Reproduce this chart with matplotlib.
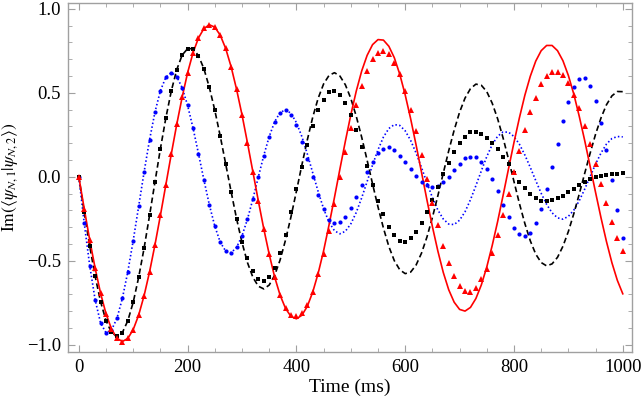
import matplotlib
matplotlib.use("Agg")
import matplotlib.pyplot as plt
from matplotlib.ticker import MultipleLocator
import numpy as np

plt.rcParams["font.family"] = "Liberation Serif"
plt.rcParams["mathtext.fontset"] = "stix"

# sample times (ms), one point every 10 ms
time_ms = np.arange(0, 1001, 10)

# theory curves
red_line = [
    0.0, -0.191, -0.375, -0.544, -0.693, -0.815, -0.905, -0.961, -0.980, -0.962,
    -0.909, -0.823, -0.707, -0.566, -0.404, -0.229, -0.047, 0.136, 0.312, 0.475,
    0.620, 0.739, 0.827, 0.883, 0.905, 0.891, 0.843, 0.764, 0.655, 0.521,
    0.369, 0.203, 0.030, -0.143, -0.309, -0.461, -0.596, -0.704, -0.783, -0.831,
    -0.845, -0.824, -0.771, -0.686, -0.574, -0.440, -0.286, -0.122, 0.047, 0.212,
    0.369, 0.510, 0.630, 0.723, 0.787, 0.817, 0.814, 0.777, 0.709, 0.611,
    0.488, 0.346, 0.190, 0.027, -0.138, -0.296, -0.441, -0.569, -0.672, -0.746,
    -0.789, -0.799, -0.777, -0.724, -0.643, -0.536, -0.408, -0.265, -0.110, 0.049,
    0.205, 0.352, 0.486, 0.599, 0.689, 0.751, 0.782, 0.782, 0.751, 0.691,
    0.603, 0.492, 0.360, 0.216, 0.062, -0.093, -0.244, -0.385, -0.511, -0.616,
    -0.696]
black_line = [
    0.0, -0.211, -0.412, -0.592, -0.743, -0.856, -0.926, -0.950, -0.927, -0.857,
    -0.746, -0.598, -0.424, -0.230, -0.030, 0.168, 0.351, 0.511, 0.638, 0.725,
    0.763, 0.763, 0.721, 0.643, 0.532, 0.396, 0.242, 0.077, -0.089, -0.249,
    -0.391, -0.510, -0.598, -0.651, -0.667, -0.644, -0.586, -0.495, -0.376, -0.238,
    -0.086, 0.070, 0.219, 0.355, 0.468, 0.553, 0.604, 0.620, 0.600, 0.548,
    0.467, 0.361, 0.236, 0.099, -0.042, -0.179, -0.305, -0.415, -0.499, -0.553,
    -0.576, -0.567, -0.525, -0.454, -0.358, -0.242, -0.113, 0.022, 0.155, 0.278,
    0.385, 0.469, 0.525, 0.552, 0.545, 0.507, 0.438, 0.345, 0.231, 0.104,
    -0.028, -0.159, -0.278, -0.381, -0.460, -0.510, -0.530, -0.518, -0.479, -0.413,
    -0.325, -0.219, -0.102, 0.021, 0.141, 0.254, 0.351, 0.429, 0.482, 0.508,
    0.507]
blue_line = [
    0.0, -0.277, -0.528, -0.732, -0.870, -0.928, -0.912, -0.843, -0.724, -0.566,
    -0.379, -0.176, 0.029, 0.220, 0.386, 0.513, 0.593, 0.620, 0.597, 0.530,
    0.425, 0.290, 0.138, -0.019, -0.167, -0.294, -0.389, -0.442, -0.452, -0.420,
    -0.351, -0.252, -0.132, -0.001, 0.127, 0.240, 0.328, 0.383, 0.399, 0.378,
    0.323, 0.240, 0.137, 0.024, -0.088, -0.190, -0.270, -0.321, -0.339, -0.324,
    -0.280, -0.212, -0.125, -0.028, 0.071, 0.161, 0.237, 0.288, 0.311, 0.306,
    0.274, 0.217, 0.142, 0.055, -0.036, -0.123, -0.197, -0.251, -0.281, -0.284,
    -0.258, -0.208, -0.136, -0.052, 0.036, 0.121, 0.192, 0.242, 0.267, 0.266,
    0.240, 0.194, 0.130, 0.056, -0.022, -0.098, -0.164, -0.214, -0.244, -0.252,
    -0.235, -0.198, -0.142, -0.073, 0.002, 0.076, 0.142, 0.195, 0.228, 0.240,
    0.238]

# simulated points
red_pts = [
    0.0, -0.191, -0.375, -0.544, -0.693, -0.815, -0.905, -0.961, -0.980, -0.962,
    -0.909, -0.823, -0.707, -0.566, -0.404, -0.229, -0.047, 0.136, 0.312, 0.475,
    0.620, 0.739, 0.827, 0.883, 0.905, 0.891, 0.843, 0.764, 0.655, 0.521,
    0.369, 0.203, 0.030, -0.143, -0.309, -0.461, -0.596, -0.704, -0.783, -0.825,
    -0.830, -0.812, -0.765, -0.685, -0.580, -0.460, -0.320, -0.160, 0.000, 0.145,
    0.290, 0.430, 0.540, 0.630, 0.700, 0.740, 0.750, 0.730, 0.680, 0.610,
    0.510, 0.400, 0.270, 0.130, -0.014, -0.157, -0.286, -0.410, -0.510, -0.593,
    -0.650, -0.680, -0.686, -0.660, -0.610, -0.550, -0.455, -0.347, -0.226, -0.100,
    0.026, 0.156, 0.280, 0.385, 0.470, 0.550, 0.600, 0.625, 0.625, 0.605,
    0.560, 0.490, 0.410, 0.305, 0.196, 0.077, -0.040, -0.157, -0.266, -0.365,
    -0.444]
black_pts = [
    0.0, -0.211, -0.412, -0.592, -0.743, -0.856, -0.926, -0.950, -0.927, -0.857,
    -0.746, -0.598, -0.424, -0.230, -0.030, 0.168, 0.351, 0.511, 0.638, 0.725,
    0.763, 0.763, 0.721, 0.643, 0.532, 0.396, 0.242, 0.077, -0.089, -0.249,
    -0.385, -0.485, -0.560, -0.610, -0.619, -0.597, -0.545, -0.455, -0.345, -0.212,
    -0.075, 0.060, 0.190, 0.300, 0.400, 0.460, 0.504, 0.510, 0.488, 0.440,
    0.370, 0.280, 0.177, 0.065, -0.050, -0.141, -0.222, -0.296, -0.345, -0.379,
    -0.385, -0.365, -0.330, -0.276, -0.210, -0.137, -0.058, 0.018, 0.085, 0.147,
    0.200, 0.240, 0.264, 0.268, 0.254, 0.234, 0.204, 0.165, 0.117, 0.077,
    0.025, -0.028, -0.067, -0.100, -0.123, -0.141, -0.143, -0.137, -0.125, -0.113,
    -0.093, -0.070, -0.050, -0.032, -0.014, -0.002, 0.008, 0.012, 0.016, 0.018,
    0.022]
blue_pts = [
    0.0, -0.277, -0.528, -0.732, -0.870, -0.928, -0.912, -0.843, -0.724, -0.566,
    -0.379, -0.176, 0.029, 0.220, 0.386, 0.513, 0.593, 0.620, 0.597, 0.530,
    0.425, 0.290, 0.138, -0.019, -0.167, -0.294, -0.389, -0.442, -0.452, -0.420,
    -0.351, -0.252, -0.132, -0.001, 0.127, 0.240, 0.328, 0.383, 0.399, 0.370,
    0.310, 0.210, 0.105, 0.000, -0.107, -0.190, -0.255, -0.272, -0.266, -0.236,
    -0.187, -0.117, -0.048, 0.026, 0.091, 0.141, 0.167, 0.175, 0.157, 0.127,
    0.091, 0.048, 0.007, -0.028, -0.048, -0.058, -0.054, -0.032, 0.002, 0.040,
    0.077, 0.111, 0.121, 0.117, 0.091, 0.048, -0.012, -0.087, -0.167, -0.240,
    -0.305, -0.341, -0.355, -0.333, -0.276, -0.190, -0.071, 0.058, 0.195, 0.330,
    0.444, 0.533, 0.583, 0.587, 0.543, 0.452, 0.320, 0.160, -0.018, -0.196,
    -0.361]

frame_gray = "#a0a0a0"

fig = plt.figure(figsize=(6.41, 3.99), dpi=100)
ax = fig.add_axes([0.106, 0.118, 0.880, 0.875])

ax.plot(time_ms, blue_line, color="blue", lw=1.2, dashes=(0.9, 1.4))
ax.plot(time_ms, black_line, color="black", lw=1.2, dashes=(3.4, 2.0))
ax.plot(time_ms, red_line, color="red", lw=1.2)
ax.plot(time_ms, blue_pts, "o", color="blue", ms=3.0, mew=0)
ax.plot(time_ms, black_pts, "s", color="black", ms=2.8, mew=0)
ax.plot(time_ms, red_pts, "^", color="red", ms=4.3, mew=0)

ax.set_xlim(-20, 1017)
ax.set_ylim(-1.042, 1.036)
ax.xaxis.set_major_locator(MultipleLocator(200))
ax.xaxis.set_minor_locator(MultipleLocator(50))
ax.yaxis.set_major_locator(MultipleLocator(0.5))
ax.yaxis.set_minor_locator(MultipleLocator(0.1))
ax.yaxis.set_major_formatter(lambda v, pos: f"{v:.1f}".replace("-", "\u2212"))

for s in ax.spines.values():
    s.set_color(frame_gray)
    s.set_linewidth(1.0)
ax.tick_params(which="both", direction="in", top=True, right=True,
               color=frame_gray, labelsize=13.5, labelcolor="black")
ax.tick_params(which="major", length=5, width=0.8, pad=5)
ax.tick_params(which="minor", length=2.8, width=0.6)

ax.set_xlabel("Time (ms)", fontsize=14, labelpad=2)
ax.set_ylabel(r"$\mathrm{Im}(\langle\psi_{N,1}|\psi_{N,2}\rangle)$", fontsize=12.5, labelpad=5)

fig.savefig("out.png", dpi=100)
